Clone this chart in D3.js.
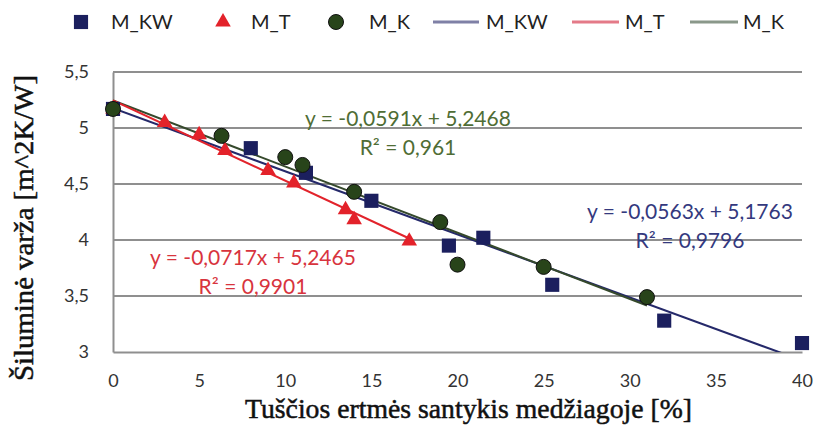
<!DOCTYPE html>
<html>
<head>
<meta charset="utf-8">
<script src="https://cdn.jsdelivr.net/npm/d3@7"></script>
<style>
  html, body { margin: 0; padding: 0; background: #fff; }
  svg { display: block; }
</style>
</head>
<body>
<svg id="chart" width="819" height="425"></svg>
<script>
// Measured series: void ratio [%] vs. thermal resistance [m^2K/W]
const kwX = [0, 8, 11.2, 15, 19.5, 21.5, 25.5, 32, 40];
const kwY = [5.17, 4.82, 4.6, 4.35, 3.95, 4.02, 3.6, 3.28, 3.08];

const tX = [0, 3, 5, 6.5, 9, 10.5, 13.5, 14, 17.2];
const tY = [5.17, 5.05, 4.94, 4.8, 4.62, 4.51, 4.27, 4.18, 3.99];

const kX = [0, 6.3, 10, 11, 14, 19, 20, 25, 31];
const kY = [5.17, 4.93, 4.74, 4.67, 4.43, 4.16, 3.78, 3.76, 3.49];

// Linear trend coefficients (slope, intercept, R²)
const kwFit = [-0.0563, 5.1763, 0.9796];
const tFit = [-0.0717, 5.2465, 0.9901];
const kFit = [-0.0591, 5.2468, 0.961];

const xTicks = [0, 5, 10, 15, 20, 25, 30, 35, 40];
const yTicks = [3, 3.5, 4, 4.5, 5, 5.5];

const seriesNames = ["M_KW", "M_T", "M_K"];

const svg = d3.select("#chart");
const plotL = 113, plotR = 802, plotT = 72, plotB = 352;

const x = d3.scaleLinear().domain([0, 40]).range([plotL, plotR]);
const y = d3.scaleLinear().domain([3, 5.5]).range([plotB, plotT]);

const comma = v => String(v).replace(".", ",");

const colors = {
  kwMark: "#1b1f5e", tMark: "#e3222a", kMark: "#28441a",
  kwLine: "#25296a", tLine: "#e2232b", kLine: "#35492c",
  kwText: "#34397e", tText: "#d8343e", kText: "#4f6d35",
  kwLeg: "#7f80a6", tLeg: "#e47a88", kLeg: "#8a988a"
};

// gridlines
svg.append("g")
  .selectAll("line")
  .data(yTicks.filter(d => d > 3))
  .join("line")
  .attr("x1", plotL).attr("x2", plotR)
  .attr("y1", d => y(d)).attr("y2", d => y(d))
  .attr("stroke", "#8f8f8f").attr("stroke-width", 2);

// axes
const tickFont = "Lato, 'Open Sans', sans-serif";
const yAxis = d3.axisLeft(y).tickValues(yTicks).tickFormat(comma).tickSize(0).tickPadding(24);
const gy = svg.append("g").attr("transform", `translate(${plotL},0)`).call(yAxis);
gy.select(".domain").attr("stroke", "#8f8f8f").attr("stroke-width", 2);
gy.selectAll("text").attr("font-family", tickFont)
  .attr("font-size", 18).attr("fill", "#333");

const xAxis = d3.axisBottom(x).tickValues(xTicks).tickFormat(comma).tickSize(0).tickPadding(22);
const gx = svg.append("g").attr("transform", `translate(0,${plotB})`).call(xAxis);
gx.select(".domain").attr("stroke", "#8f8f8f").attr("stroke-width", 2);
gx.selectAll("text").attr("font-family", tickFont)
  .attr("font-size", 18).attr("fill", "#333");

// axis titles
const titleFont = "'Liberation Serif', 'DejaVu Serif', serif";
svg.append("text")
  .attr("x", (245 + 692) / 2).attr("y", 418)
  .attr("text-anchor", "middle")
  .attr("font-family", titleFont)
  .attr("font-size", 27).attr("fill", "#111")
  .attr("stroke", "#111").attr("stroke-width", 0.5)
  .attr("textLength", 447).attr("lengthAdjust", "spacingAndGlyphs")
  .text("Tuščios ertmės santykis medžiagoje [%]");

svg.append("text")
  .attr("transform", "translate(33,228) rotate(-90)")
  .attr("text-anchor", "middle")
  .attr("font-family", titleFont)
  .attr("font-size", 28).attr("fill", "#111")
  .attr("stroke", "#111").attr("stroke-width", 0.5)
  .attr("textLength", 306).attr("lengthAdjust", "spacingAndGlyphs")
  .text("Šiluminė varža [m^2K/W]");

// trend lines, clipped to the plot frame
svg.append("clipPath").attr("id", "plotClip")
  .append("rect").attr("x", plotL).attr("y", plotT).attr("width", plotR - plotL).attr("height", plotB - plotT);

const trends = [
  { xs: kwX, fit: kwFit, color: colors.kwLine },
  { xs: kX, fit: kFit, color: colors.kLine },
  { xs: tX, fit: tFit, color: colors.tLine }
];
const line = d3.line().x(d => x(d[0])).y(d => y(d[1]));
svg.append("g").attr("clip-path", "url(#plotClip)")
  .selectAll("path")
  .data(trends)
  .join("path")
  .attr("d", t => {
    const [x0, x1] = d3.extent(t.xs);
    return line([[x0, t.fit[0] * x0 + t.fit[1]], [x1, t.fit[0] * x1 + t.fit[1]]]);
  })
  .attr("fill", "none").attr("stroke", d => d.color).attr("stroke-width", 2);

// markers
const sq = d3.symbol().type(d3.symbolSquare).size(200);
const tri = d3.symbol().type(d3.symbolTriangle).size(105);

svg.append("g").selectAll("path")
  .data(d3.zip(kwX, kwY))
  .join("path")
  .attr("d", sq)
  .attr("transform", d => `translate(${x(d[0])},${y(d[1])})`)
  .attr("fill", colors.kwMark);

svg.append("g").selectAll("path")
  .data(d3.zip(tX, tY))
  .join("path")
  .attr("d", tri)
  .attr("transform", d => `translate(${x(d[0])},${y(d[1])})`)
  .attr("fill", colors.tMark);

svg.append("g").selectAll("circle")
  .data(d3.zip(kX, kY))
  .join("circle")
  .attr("cx", d => x(d[0])).attr("cy", d => y(d[1])).attr("r", 7.5)
  .attr("fill", colors.kMark).attr("stroke", "#111").attr("stroke-width", 1);

// trend equations
const eqFont = "Lato, 'Open Sans', sans-serif";
function equation(fit, cx, by, color) {
  const g = svg.append("g").attr("font-family", eqFont).attr("font-size", 21)
    .attr("fill", color).attr("text-anchor", "middle");
  g.append("text").attr("x", cx).attr("y", by)
    .text(`y = ${comma(fit[0])}x + ${comma(fit[1])}`);
  g.append("text").attr("x", cx).attr("y", by + 29)
    .text(`R² = ${comma(fit[2])}`);
}
equation(kFit, 408, 126, colors.kText);
equation(kwFit, 690, 219, colors.kwText);
equation(tFit, 253, 265, colors.tText);

// legend
const leg = svg.append("g").attr("font-family", eqFont).attr("font-size", 20).attr("fill", "#222");
const legY = 22;
const legMarks = [
  { cx: 81, tx: 111, name: seriesNames[0], kind: "sq" },
  { cx: 223, tx: 251, name: seriesNames[1], kind: "tri" },
  { cx: 336, tx: 369, name: seriesNames[2], kind: "circ" }
];
legMarks.forEach(m => {
  if (m.kind === "sq") leg.append("path").attr("d", sq).attr("transform", `translate(${m.cx},${legY})`).attr("fill", colors.kwMark);
  if (m.kind === "tri") leg.append("path").attr("d", tri).attr("transform", `translate(${m.cx},${legY})`).attr("fill", colors.tMark);
  if (m.kind === "circ") leg.append("circle").attr("cx", m.cx).attr("cy", legY).attr("r", 7.5).attr("fill", colors.kMark).attr("stroke", "#111");
  leg.append("text").attr("x", m.tx).attr("y", legY).attr("dy", "0.35em").text(m.name);
});
const legLines = [
  { x0: 433, x1: 479, tx: 486, name: seriesNames[0], color: colors.kwLeg },
  { x0: 572, x1: 619, tx: 625, name: seriesNames[1], color: colors.tLeg },
  { x0: 690, x1: 738, tx: 743, name: seriesNames[2], color: colors.kLeg }
];
legLines.forEach(l => {
  leg.append("line").attr("x1", l.x0).attr("x2", l.x1).attr("y1", legY).attr("y2", legY)
    .attr("stroke", l.color).attr("stroke-width", 3);
  leg.append("text").attr("x", l.tx).attr("y", legY).attr("dy", "0.35em").text(l.name);
});
</script>
</body>
</html>
